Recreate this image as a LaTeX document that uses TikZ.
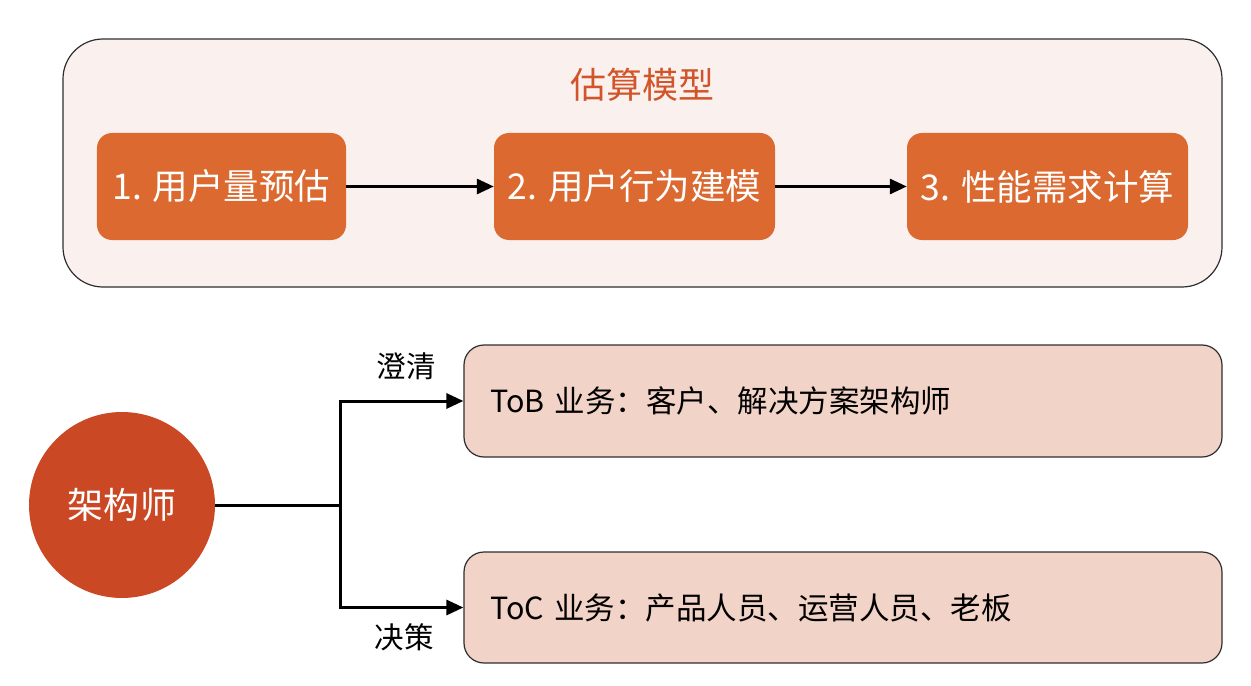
\documentclass[tikz,border=0pt]{standalone}
\usepackage{fontspec}
\newfontfamily\cjk{Noto Sans CJK SC}
\usetikzlibrary{arrows.meta}
\definecolor{panelfill}{HTML}{FAF1EF}
\definecolor{panelline}{HTML}{2E2E2E}
\definecolor{stepfill}{HTML}{DB6930}
\definecolor{titlecol}{HTML}{D2552A}
\definecolor{rolefill}{HTML}{CB4824}
\definecolor{audfill}{HTML}{F2D3C7}
\tikzset{
  stepbox/.style={fill=stepfill, rounded corners=15bp, minimum height=107bp,
    inner sep=0pt, text=white, font=\cjk\fontsize{35.5bp}{42bp}\selectfont},
  audbox/.style={fill=audfill, draw=panelline, line width=1.2bp, rounded corners=20bp,
    minimum width=758bp, text width=706bp, align=left, inner xsep=26bp,
    font=\cjk\fontsize{30.5bp}{36bp}\selectfont},
  flow/.style={line width=3bp, -{Triangle[length=17bp,width=15bp]}},
  lbl/.style={font=\cjk\fontsize{29.5bp}{36bp}\selectfont, inner sep=0pt}
}
\begin{document}
\begin{tikzpicture}[x=1bp,y=-1bp]
\useasboundingbox (0,0) rectangle (1251,686);
% estimation model panel
\draw[fill=panelfill, draw=panelline, line width=1.2bp, rounded corners=40bp]
  (63,39) rectangle (1222,287);
\node[font=\cjk\fontsize{36bp}{42bp}\selectfont, text=titlecol] (title) at (642,85) {估算模型};
\node[stepbox, minimum width=249bp] (s1) at (221.5,186.5) {1. 用户量预估};
\node[stepbox, minimum width=281bp] (s2) at (634.5,186.5) {2. 用户行为建模};
\node[stepbox, minimum width=281bp] (s3) at (1047.5,186.5) {3. 性能需求计算};
\draw[flow] (s1) -- (s2);
\draw[flow] (s2) -- (s3);
% architect and audiences
\node[circle, fill=rolefill, minimum size=186bp, inner sep=0pt, text=white,
  font=\cjk\fontsize{36bp}{42bp}\selectfont] (arch) at (122,505) {架构师};
\node[audbox, minimum height=112bp] (tob) at (843,401) {ToB 业务：客户、解决方案架构师};
\node[audbox, minimum height=111bp] (toc) at (843,607.5) {ToC 业务：产品人员、运营人员、老板};
\coordinate (split) at (340,505);
\draw[line width=3bp] (arch.east) -- (split);
\draw[flow] (split) |- (tob.west);
\draw[flow] (split) |- (toc.west);
\node[lbl] (clarify) at (406,366) {澄清};
\node[lbl] (decide) at (404,637) {决策};
\end{tikzpicture}
\end{document}
